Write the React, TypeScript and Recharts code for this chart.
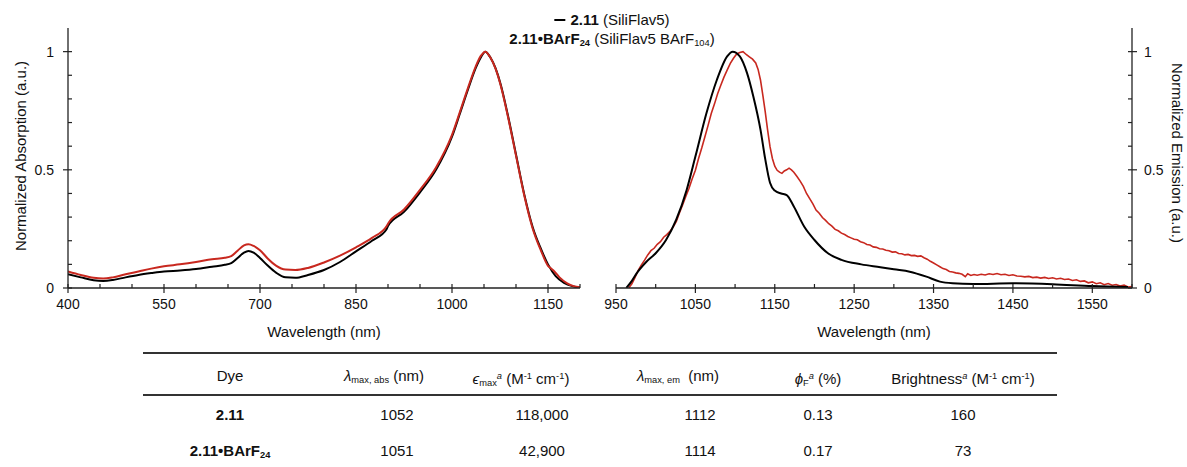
import React from 'react';
import { LineChart, Line, XAxis, YAxis } from 'recharts';

const FONT = '"Liberation Sans", Arial, Helvetica, sans-serif';
const INK = '#111';
const AXIS = '#222';
const RED = '#c8281f';

// ---- axis ticks ----
const absTicks = [400, 450, 500, 550, 600, 650, 700, 750, 800, 850, 900, 950, 1000, 1050, 1100, 1150, 1200];
const absLabels = [400, 550, 700, 850, 1000, 1150];
const emTicks = [950, 1000, 1050, 1100, 1150, 1200, 1250, 1300, 1350, 1400, 1450, 1500, 1550, 1600];
const emLabels = [950, 1050, 1150, 1250, 1350, 1450, 1550];
const yTicks = [0, 0.1, 0.2, 0.3, 0.4, 0.5, 0.6, 0.7, 0.8, 0.9, 1];
const yLabels = [0, 0.5, 1];

// ---- absorption spectra: [wavelength nm, normalized absorbance] ----
const absDye: [number, number][] = [
  [400, 0.058], [420, 0.045], [440, 0.033], [455, 0.03], [470, 0.034], [490, 0.045], [510, 0.055],
  [530, 0.063], [550, 0.07], [575, 0.074], [600, 0.08], [625, 0.09], [645, 0.098], [655, 0.105],
  [665, 0.127], [675, 0.15], [682, 0.157], [690, 0.15], [700, 0.127], [712, 0.095], [725, 0.065],
  [740, 0.045], [755, 0.043], [775, 0.055], [800, 0.076], [825, 0.11], [850, 0.155], [875, 0.2],
  [898, 0.25], [900, 0.262], [925, 0.322], [950, 0.405], [975, 0.5], [1000, 0.64], [1012, 0.735],
  [1025, 0.84], [1037, 0.93], [1045, 0.975], [1052, 1.0], [1060, 0.975], [1068, 0.93], [1076, 0.862],
  [1087, 0.735], [1100, 0.565], [1113, 0.395], [1126, 0.258], [1139, 0.165], [1150, 0.1], [1162, 0.05],
  [1175, 0.022], [1188, 0.008], [1200, 0.002],
];
const absSalt: [number, number][] = [
  [400, 0.07], [420, 0.055], [440, 0.043], [455, 0.04], [470, 0.045], [490, 0.058], [510, 0.07],
  [530, 0.082], [550, 0.092], [575, 0.1], [600, 0.11], [625, 0.122], [645, 0.128], [655, 0.135],
  [665, 0.158], [675, 0.18], [682, 0.185], [690, 0.178], [700, 0.16], [712, 0.125], [725, 0.095],
  [740, 0.078], [755, 0.076], [775, 0.085], [800, 0.108], [825, 0.137], [850, 0.172], [875, 0.212],
  [898, 0.262], [900, 0.272], [925, 0.332], [950, 0.415], [975, 0.51], [1000, 0.648], [1012, 0.742],
  [1025, 0.847], [1037, 0.937], [1045, 0.982], [1052, 1.0], [1060, 0.975], [1068, 0.928], [1076, 0.858],
  [1087, 0.73], [1100, 0.56], [1113, 0.39], [1126, 0.252], [1139, 0.158], [1150, 0.094], [1155, 0.082],
  [1160, 0.07], [1168, 0.045], [1180, 0.02], [1190, 0.008], [1200, 0.003],
];

// ---- emission spectra: [wavelength nm, normalized intensity] ----
const emDye: [number, number][] = [
  [963, 0], [970, 0.03], [976, 0.062], [988, 0.11], [1000, 0.147], [1013, 0.203], [1026, 0.29],
  [1039, 0.415], [1050, 0.556], [1064, 0.74], [1077, 0.88], [1090, 0.98], [1097, 1.0], [1106, 0.98],
  [1115, 0.91], [1123, 0.81], [1132, 0.67], [1138, 0.545], [1144, 0.445], [1150, 0.412], [1158, 0.4],
  [1165, 0.393], [1174, 0.345], [1187, 0.26], [1200, 0.203], [1217, 0.147], [1234, 0.119], [1259, 0.1],
  [1283, 0.088], [1300, 0.079], [1320, 0.069], [1341, 0.048], [1358, 0.027], [1374, 0.02], [1400, 0.017],
  [1450, 0.02], [1500, 0.016], [1550, 0.008], [1595, 0.004],
];
const emSalt: [number, number][] = [
  [966, 0], [970, 0.018], [974, 0.045], [978, 0.075], [982, 0.098], [986, 0.118], [990, 0.14],
  [994, 0.158], [998, 0.168], [1002, 0.185], [1006, 0.196], [1010, 0.215], [1014, 0.226], [1018, 0.24],
  [1022, 0.258], [1026, 0.282], [1030, 0.318], [1034, 0.352], [1038, 0.388], [1042, 0.422], [1046, 0.462],
  [1050, 0.498], [1054, 0.548], [1058, 0.592], [1062, 0.64], [1066, 0.688], [1070, 0.738], [1074, 0.778],
  [1078, 0.822], [1082, 0.858], [1086, 0.892], [1090, 0.922], [1094, 0.95], [1098, 0.972], [1102, 0.99],
  [1106, 0.996], [1110, 1.0], [1114, 0.988], [1118, 0.978], [1122, 0.968], [1126, 0.952], [1129, 0.925],
  [1132, 0.88], [1135, 0.815], [1138, 0.745], [1141, 0.668], [1144, 0.598], [1147, 0.548], [1150, 0.515],
  [1153, 0.498], [1156, 0.49], [1159, 0.485], [1162, 0.495], [1165, 0.5], [1168, 0.507], [1171, 0.5],
  [1174, 0.49], [1178, 0.472], [1182, 0.452], [1186, 0.43], [1190, 0.4], [1194, 0.378], [1198, 0.356],
  [1202, 0.33], [1206, 0.316], [1210, 0.298], [1214, 0.286], [1218, 0.272], [1222, 0.262], [1226, 0.248],
  [1230, 0.242], [1234, 0.232], [1238, 0.226], [1242, 0.218], [1246, 0.212], [1250, 0.206], [1254, 0.204],
  [1258, 0.196], [1262, 0.192], [1266, 0.184], [1270, 0.182], [1274, 0.174], [1278, 0.172], [1282, 0.166],
  [1286, 0.165], [1290, 0.16], [1294, 0.158], [1298, 0.152], [1302, 0.153], [1306, 0.146], [1310, 0.145],
  [1314, 0.14], [1318, 0.142], [1322, 0.137], [1326, 0.138], [1330, 0.134], [1334, 0.136], [1338, 0.128],
  [1342, 0.122], [1346, 0.113], [1350, 0.106], [1354, 0.098], [1358, 0.09], [1362, 0.082], [1366, 0.078],
  [1370, 0.07], [1374, 0.068], [1378, 0.064], [1382, 0.062], [1386, 0.058], [1390, 0.048], [1393, 0.06],
  [1397, 0.053], [1401, 0.057], [1405, 0.054], [1410, 0.058], [1415, 0.055], [1420, 0.06], [1425, 0.057],
  [1430, 0.061], [1435, 0.056], [1440, 0.058], [1445, 0.053], [1450, 0.056], [1455, 0.051], [1460, 0.05],
  [1465, 0.047], [1470, 0.049], [1475, 0.044], [1480, 0.046], [1485, 0.042], [1490, 0.045], [1495, 0.04],
  [1500, 0.043], [1505, 0.038], [1510, 0.041], [1515, 0.036], [1520, 0.038], [1525, 0.032], [1530, 0.035],
  [1535, 0.028], [1540, 0.03], [1545, 0.022], [1550, 0.026], [1555, 0.018], [1560, 0.022], [1565, 0.014],
  [1570, 0.019], [1575, 0.012], [1580, 0.015], [1585, 0.008], [1590, 0.012], [1595, 0.004], [1600, 0.006],
];

// ---- photophysical table ----
const dyeNames = ['2.11', '2.11•BArF'];
const lambdaAbs = ['1052', '1051'];
const epsilonMax = ['118,000', '42,900'];
const lambdaEm = ['1112', '1114'];
const quantumYield = ['0.13', '0.17'];
const brightness = ['160', '73'];

const toPoints = (arr: [number, number][]) => arr.map(([nm, v]) => ({ nm, v }));

const isLabelled = (labels: number[], v: number) => labels.some((l) => Math.abs(l - v) < 1e-6);

const makeXTick = (labels: number[]) => (props: any) => {
  const { x, y, payload } = props;
  const major = isLabelled(labels, payload.value);
  return (
    <g>
      <line x1={x} x2={x} y1={y - 4} y2={major ? y + 5 : y} stroke={AXIS} strokeWidth={1.2} />
      {major && (
        <text x={x} y={y + 21} textAnchor="middle" fontSize={14} fontFamily={FONT} fill={INK}>
          {payload.value}
        </text>
      )}
    </g>
  );
};

const makeYTick = (side: 'left' | 'right') => (props: any) => {
  const { x, y, payload } = props;
  const major = isLabelled(yLabels, payload.value);
  const inward = side === 'left' ? 1 : -1;
  return (
    <g>
      <line
        x1={major ? x - 5 * inward : x}
        x2={x + 4 * inward}
        y1={y}
        y2={y}
        stroke={AXIS}
        strokeWidth={1.2}
      />
      {major && (
        <text
          x={side === 'left' ? x - 14 : x + 12}
          y={y + 5}
          textAnchor={side === 'left' ? 'end' : 'start'}
          fontSize={14}
          fontFamily={FONT}
          fill={INK}
        >
          {payload.value}
        </text>
      )}
    </g>
  );
};

const axisLineStyle = { stroke: AXIS, strokeWidth: 1.3 };

const cell = (cx: number, cy: number, content: React.ReactNode, bold = false) => (
  <div
    style={{
      position: 'absolute',
      left: cx,
      top: cy - 10,
      height: 20,
      lineHeight: '20px',
      transform: 'translateX(-50%)',
      whiteSpace: 'nowrap',
      fontWeight: bold ? 'bold' : 'normal',
    }}
  >
    {content}
  </div>
);

const subStyle: React.CSSProperties = { fontSize: '0.62em', verticalAlign: '-0.25em' };
const supStyle: React.CSSProperties = { fontSize: '0.62em', verticalAlign: '0.55em' };

export default function App() {
  const headerY = 376;
  const rowY = [415, 451];
  const colX = [230, 384, 521, 678, 818, 963];
  const valX = [230, 397, 542, 700, 818, 963];

  return (
    <div
      style={{
        position: 'absolute',
        left: 0,
        top: 0,
        width: 1187,
        height: 467,
        background: '#fff',
        fontFamily: FONT,
        color: INK,
        overflow: 'hidden',
      }}
    >
      {/* absorption panel: plot area x 68..580, y 28..288 */}
      <div style={{ position: 'absolute', left: 0, top: 0 }}>
        <LineChart width={600} height={340} margin={{ top: 28, right: 20, bottom: 22, left: 38 }}>
          <XAxis
            type="number"
            dataKey="nm"
            domain={[400, 1200]}
            ticks={absTicks}
            interval={0}
            height={30}
            tickSize={0}
            tickMargin={0}
            axisLine={axisLineStyle}
            tickLine={false}
            tick={makeXTick(absLabels)}
            allowDataOverflow
          />
          <YAxis
            type="number"
            domain={[0, 1.1]}
            ticks={yTicks}
            interval={0}
            width={30}
            tickSize={0}
            tickMargin={0}
            axisLine={axisLineStyle}
            tickLine={false}
            tick={makeYTick('left')}
            allowDataOverflow
          />
          <Line data={toPoints(absDye)} dataKey="v" type="monotone" stroke="#000" strokeWidth={2} dot={false} isAnimationActive={false} />
          <Line data={toPoints(absSalt)} dataKey="v" type="monotone" stroke={RED} strokeWidth={2} dot={false} isAnimationActive={false} />
        </LineChart>
      </div>

      {/* emission panel: plot area x 616..1132, y 28..288 */}
      <div style={{ position: 'absolute', left: 600, top: 0 }}>
        <LineChart width={587} height={340} margin={{ top: 28, right: 25, bottom: 22, left: 16 }}>
          <XAxis
            type="number"
            dataKey="nm"
            domain={[950, 1600]}
            ticks={emTicks}
            interval={0}
            height={30}
            tickSize={0}
            tickMargin={0}
            axisLine={axisLineStyle}
            tickLine={false}
            tick={makeXTick(emLabels)}
            allowDataOverflow
          />
          <YAxis
            type="number"
            orientation="right"
            domain={[0, 1.1]}
            ticks={yTicks}
            interval={0}
            width={30}
            tickSize={0}
            tickMargin={0}
            axisLine={axisLineStyle}
            tickLine={false}
            tick={makeYTick('right')}
            allowDataOverflow
          />
          <Line data={toPoints(emSalt)} dataKey="v" type="linear" stroke={RED} strokeWidth={1.6} dot={false} isAnimationActive={false} />
          <Line data={toPoints(emDye)} dataKey="v" type="monotone" stroke="#000" strokeWidth={2} dot={false} isAnimationActive={false} />
        </LineChart>
      </div>

      {/* axis titles */}
      <svg width={1187} height={467} style={{ position: 'absolute', left: 0, top: 0, pointerEvents: 'none' }}>
        <g fontFamily={FONT} fontSize={15} fill={INK} textAnchor="middle">
          <text x={324} y={337}>Wavelength (nm)</text>
          <text x={874} y={337}>Wavelength (nm)</text>
          <text transform="translate(26,156) rotate(-90)">Normalized Absorption (a.u.)</text>
          <text transform="translate(1172,153) rotate(90)">Normalized Emission (a.u.)</text>
        </g>
      </svg>

      {/* legend */}
      <div
        style={{
          position: 'absolute',
          left: 612,
          top: 10,
          transform: 'translateX(-50%)',
          fontSize: 15,
          lineHeight: '19px',
          textAlign: 'center',
          whiteSpace: 'nowrap',
        }}
      >
        <div>
          <span style={{ display: 'inline-block', width: 11, height: 2, background: '#000', verticalAlign: '0.3em', marginRight: 5 }} />
          <b>2.11</b> (SiliFlav5)
        </div>
        <div>
          <b>
            2.11•BArF<span style={subStyle}>24</span>
          </b>{' '}
          (SiliFlav5 BArF<span style={subStyle}>104</span>)
        </div>
      </div>

      {/* data table */}
      <div style={{ position: 'absolute', left: 143, top: 352, width: 914, height: 1.5, background: '#333' }} />
      <div style={{ position: 'absolute', left: 143, top: 394, width: 914, height: 2, background: '#333' }} />
      <div style={{ position: 'absolute', left: 0, top: 0, width: 1187, height: 467, fontSize: 15 }}>
        {cell(colX[0], headerY, 'Dye')}
        {cell(colX[1], headerY, (
          <>
            <i>λ</i>
            <span style={subStyle}>max, abs</span> (nm)
          </>
        ))}
        {cell(colX[2], headerY, (
          <>
            <i>ϵ</i>
            <span style={subStyle}>max</span>
            <span style={supStyle}>
              <i>a</i>
            </span>{' '}
            (M<span style={supStyle}>-1</span> cm<span style={supStyle}>-1</span>)
          </>
        ))}
        {cell(colX[3], headerY, (
          <>
            <i>λ</i>
            <span style={subStyle}>max, em</span>&nbsp; (nm)
          </>
        ))}
        {cell(colX[4], headerY, (
          <>
            <i>ϕ</i>
            <span style={subStyle}>F</span>
            <span style={supStyle}>
              <i>a</i>
            </span>{' '}
            (%)
          </>
        ))}
        {cell(colX[5], headerY, (
          <>
            Brightness
            <span style={supStyle}>
              <i>a</i>
            </span>{' '}
            (M<span style={supStyle}>-1</span> cm<span style={supStyle}>-1</span>)
          </>
        ))}

        {rowY.map((ry, i) => (
          <React.Fragment key={i}>
            {cell(valX[0], ry, i === 0 ? dyeNames[i] : (
              <>
                {dyeNames[i]}
                <span style={subStyle}>24</span>
              </>
            ), true)}
            {cell(valX[1], ry, lambdaAbs[i])}
            {cell(valX[2], ry, epsilonMax[i])}
            {cell(valX[3], ry, lambdaEm[i])}
            {cell(valX[4], ry, quantumYield[i])}
            {cell(valX[5], ry, brightness[i])}
          </React.Fragment>
        ))}
      </div>
    </div>
  );
}
